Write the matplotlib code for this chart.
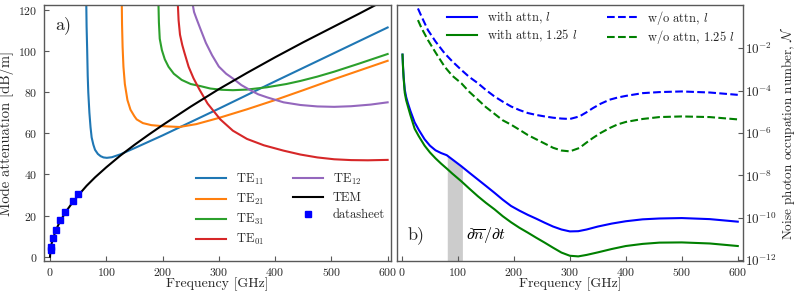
import numpy as np
import matplotlib
matplotlib.use('Agg')
import matplotlib.pyplot as plt

plt.rcParams['font.family'] = 'serif'
plt.rcParams['font.serif'] = ['cmr10']
plt.rcParams['mathtext.fontset'] = 'cm'
plt.rcParams['axes.formatter.use_mathtext'] = True
plt.rcParams['axes.unicode_minus'] = False
plt.rcParams['xtick.direction'] = 'in'
plt.rcParams['ytick.direction'] = 'in'
plt.rcParams['font.size'] = 10

# ---- panel a) mode attenuation [dB/m] vs frequency [GHz]
te11_f = [64.5, 65, 66, 67, 68, 70, 72, 74, 77, 80, 85, 90, 95, 101, 110, 125, 150, 200, 300, 400, 500, 600]
te11_a = [122, 112, 101, 88, 80, 70, 63, 58, 54.5, 52, 50, 48.9, 48.3, 48.1, 48.4, 49.8, 52.8, 59, 72, 85.3, 98.4, 111.5]

te21_f = [127.6, 128, 129, 130.5, 133, 137.6, 143, 150, 154, 165, 180, 200, 230, 260, 300, 350, 400, 450, 500, 550, 600]
te21_a = [122, 113, 102, 92.4, 84, 76.2, 71.5, 68.3, 66.8, 65, 64, 63.5, 63.1, 64.5, 67.5, 71.7, 76.2, 81, 85.9, 90.6, 95.3]

te31_f = [192.8, 193.5, 195, 198.8, 204, 210.6, 220, 234, 250, 267, 285, 305, 325, 350, 385, 420, 445, 475, 505, 550, 600]
te31_a = [122, 114, 106, 100.5, 96, 92.4, 89, 86, 84, 83, 81.8, 81.2, 81, 81.3, 82.4, 84, 85.5, 87.6, 90, 94, 98.6]

te01_f = [227.3, 228.5, 231, 235, 238.6, 246.3, 255, 265.8, 280, 302.6, 325, 350, 380, 415, 445, 475, 505, 535, 565, 600]
te01_a = [122, 115, 108, 103, 99.5, 92.4, 86.8, 81.2, 74.5, 66.8, 61.3, 57.3, 54.2, 51.6, 49.7, 48.3, 47.4, 47, 46.9, 47.1]

te12_f = [254, 256, 260, 267, 277, 288, 300, 313, 326, 340, 356, 370, 386, 415, 445, 475, 505, 535, 570, 600]
te12_a = [122, 119, 116, 111, 104, 98, 92.5, 89, 86.5, 83.5, 81, 79, 77.5, 75.1, 73.8, 73.1, 72.9, 73.2, 74, 75.1]

tem_f = [0, 1, 3, 6, 10, 15, 20, 30, 40, 50, 65, 80, 100, 125, 150, 175, 200, 250, 300, 350, 400, 450, 500, 550, 600]
tem_a = [0, 3.6, 6.6, 9.3, 12.6, 15.6, 18.2, 22.6, 26.4, 29.8, 34.5, 38.6, 43.5, 49.2, 54.4, 59.3, 64, 73, 81.5, 89.4, 97, 104.3, 111.3, 118.3, 125.5]

ds_f = [1, 2, 6, 10, 18, 26.5, 40, 50]
ds_a = [3.2, 4.5, 9.2, 13.0, 17.8, 21.8, 27.0, 30.3]

# ---- panel b) noise photon occupation number (log10 values)
att_f = [1, 2, 3, 5, 7.5, 10.7, 15, 22.7, 30, 40.5, 50, 60, 70, 80, 90, 106, 120, 135.7, 150, 165.5,
         180, 195, 210, 225, 240, 255, 270, 285, 300, 315, 330, 350, 375, 400, 430, 460, 500, 550, 600]
att_l_exp = [-2.3, -2.9, -3.35, -3.95, -4.3, -4.6, -4.95, -5.5, -5.85, -6.3, -6.6, -6.82, -6.95, -7.05, -7.25,
             -7.57, -7.87, -8.2, -8.5, -8.83, -9.15, -9.45, -9.67, -9.87, -10.05, -10.24, -10.42, -10.56,
             -10.65, -10.64, -10.56, -10.42, -10.28, -10.17, -10.08, -10.04, -10.02, -10.07, -10.19]
att_125_exp = [-2.3, -2.95, -3.4, -4.1, -4.45, -4.75, -5.15, -5.8, -6.15, -6.6, -6.92, -7.2, -7.45, -7.68,
               -7.92, -8.28, -8.62, -8.99, -9.3, -9.61, -9.93, -10.22, -10.48, -10.71, -10.95, -11.18,
               -11.42, -11.65, -11.8, -11.83, -11.76, -11.64, -11.48, -11.34, -11.24, -11.18, -11.17,
               -11.22, -11.34]

noatt_f = [28.6, 35, 46.4, 60, 76.3, 90, 106, 120, 135.7, 150, 165.5, 180, 195, 210, 225, 240, 255, 270,
           285, 300, 317, 330, 341, 355, 371, 385, 400, 430, 460, 500, 550, 600]
noatt_l_exp = [-0.12, -0.5, -1.14, -1.68, -2.24, -2.62, -3.02, -3.35, -3.65, -3.97, -4.28, -4.52, -4.75,
               -4.92, -5.06, -5.15, -5.22, -5.28, -5.32, -5.34, -5.22, -5.02, -4.83, -4.62, -4.43, -4.33,
               -4.25, -4.12, -4.07, -4.04, -4.09, -4.2]
noatt_125_exp = [-0.67, -1.05, -1.61, -2.2, -2.87, -3.3, -3.65, -4.05, -4.43, -4.78, -5.1, -5.4, -5.61,
                 -5.85, -6.1, -6.3, -6.5, -6.7, -6.83, -6.87, -6.71, -6.45, -6.24, -6.0, -5.77, -5.6,
                 -5.48, -5.34, -5.25, -5.22, -5.25, -5.36]

band_f = [81, 90, 100, 108]
band_exp = [-7.07, -7.25, -7.45, -7.6]

fig = plt.figure(figsize=(7.97, 2.98), dpi=100)
ax1 = fig.add_axes([0.0552, 0.124, 0.4354, 0.859])
ax2 = fig.add_axes([0.498, 0.124, 0.434, 0.859])

txt = '0.15'
for ax in (ax1, ax2):
    for s in ax.spines.values():
        s.set_color('0.35')
        s.set_linewidth(1.0)
    ax.tick_params(colors='0.35', labelcolor=txt, labelsize=8.5)

lw = 1.5
ax1.plot(te11_f, te11_a, color='tab:blue', lw=lw, label=r'TE$_{11}$')
ax1.plot(te21_f, te21_a, color='tab:orange', lw=lw, label=r'TE$_{21}$')
ax1.plot(te31_f, te31_a, color='tab:green', lw=lw, label=r'TE$_{31}$')
ax1.plot(te01_f, te01_a, color='tab:red', lw=lw, label=r'TE$_{01}$')
ax1.plot(te12_f, te12_a, color='tab:purple', lw=lw, label=r'TE$_{12}$')
ax1.plot(tem_f, tem_a, color='black', lw=lw, label='TEM')
ax1.plot(ds_f, ds_a, 's', color='blue', ms=5, label='datasheet')

ax1.set_xlim(-10.7, 606)
ax1.set_ylim(-2.1, 122.4)
ax1.set_xticks(range(0, 601, 100))
ax1.set_yticks(range(0, 121, 20))
ax1.tick_params(axis='y', pad=4.5)
ax1.set_xlabel('Frequency [GHz]', color=txt, fontsize=10, labelpad=0)
ax1.set_ylabel('Mode attenuation [dB/m]', color=txt, fontsize=10.5, labelpad=3)
ax1.text(0.032, 0.92, 'a)', transform=ax1.transAxes, fontsize=13, va='center', color=txt)
ax1.legend(loc='lower center', bbox_to_anchor=(0.71, 0.034), ncol=2, frameon=False, fontsize=9,
           labelspacing=0.4, columnspacing=2.3, handlelength=2.4, borderaxespad=0.0, labelcolor=txt)

to_val = lambda e: 10.0 ** np.array(e)
ax2.fill_between(band_f, 1e-13, to_val(band_exp), color='0.8', lw=0)
ax2.plot(att_f, to_val(att_l_exp), color='blue', lw=lw, label=r'with attn, $l$')
ax2.plot(att_f, to_val(att_125_exp), color='green', lw=lw, label=r'with attn, 1.25 $l$')
ax2.plot(noatt_f, to_val(noatt_l_exp), '--', color='blue', lw=lw, label=r'w/o attn, $l$')
ax2.plot(noatt_f, to_val(noatt_125_exp), '--', color='green', lw=lw, label=r'w/o attn, 1.25 $l$')

ax2.set_yscale('log')
ax2.set_xlim(-9, 609)
ax2.set_ylim(10 ** -12.05, 10 ** 0.04)
ax2.set_xticks(range(0, 601, 100))
ax2.set_yticks([1e-2, 1e-4, 1e-6, 1e-8, 1e-10, 1e-12])
ax2.yaxis.set_minor_locator(matplotlib.ticker.NullLocator())
ax2.yaxis.tick_right()
ax2.yaxis.set_label_position('right')
ax2.tick_params(axis='y', pad=1.5, labelsize=9.5)
ax2.set_xlabel('Frequency [GHz]', color=txt, fontsize=10, labelpad=0)
ax2.set_ylabel(r'Noise photon occupation number, $\mathcal{N}$', color=txt, fontsize=9.5, labelpad=1)
ax2.text(0.03, 0.10, 'b)', transform=ax2.transAxes, fontsize=13, va='center', color=txt)
ax2.text(150, 10 ** -10.84, r'$\partial\overline{n}/\partial t$', fontsize=11.5, ha='center', va='center')
ax2.legend(loc='upper center', bbox_to_anchor=(0.562, 1.005), ncol=2, frameon=False, fontsize=9,
           labelspacing=0.1, columnspacing=2.35, handlelength=2.4, borderaxespad=0.0, labelcolor=txt)

fig.savefig('out.png', dpi=100)
